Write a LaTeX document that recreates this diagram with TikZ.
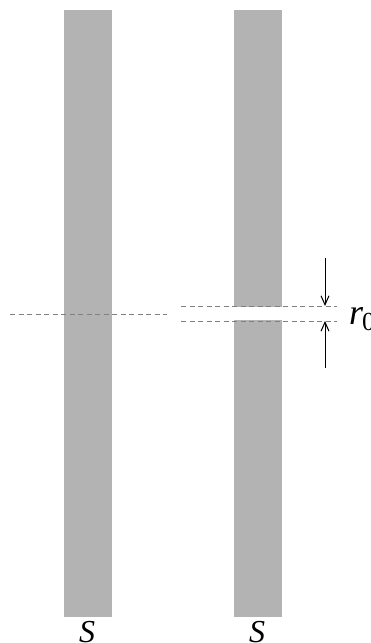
\documentclass[tikz,border=0pt]{standalone}
\usepackage{fontspec}
\setmainfont{Liberation Serif}
\usetikzlibrary{arrows.meta}
\definecolor{bargrey}{HTML}{B3B3B3}
\definecolor{dashgrey}{HTML}{808080}
\tikzset{
  bar/.style={fill=bargrey, draw=none},
  guide/.style={draw=dashgrey, line width=0.9pt, dash pattern=on 5pt off 3.5pt},
  dimarrow/.style={draw=black, line width=1pt, -{Straight Barb[length=9pt,width=8pt]}},
  lbl/.style={font=\fontsize{32}{32}\selectfont\itshape, inner sep=0pt}
}
\begin{document}
\begin{tikzpicture}[x=1pt,y=-1pt]
\useasboundingbox (0,0) rectangle (371,643);
% left bar
\fill[bar] (64,10) rectangle (112,617);
% right bar with gap
\fill[bar] (234,10) rectangle (282,307);
\fill[bar] (234,320) rectangle (282,617);
% dashed guides
\coordinate (la) at (10,314);
\coordinate (lb) at (167,314);
\draw[guide] (la) -- (lb);
\coordinate (ua) at (181,306);
\coordinate (ub) at (337,306);
\draw[guide] (ua) -- (ub);
\coordinate (da) at (181,321);
\coordinate (db) at (337,321);
\draw[guide] (da) -- (db);
% arrows
\coordinate (t0) at (325,258);
\coordinate (t1) at (325,306);
\coordinate (b0) at (325,368);
\coordinate (b1) at (325,321);
\draw[dimarrow] (t0) -- (t1);
\draw[dimarrow] (b0) -- (b1);
% labels
\node[lbl, anchor=base west, font=\fontsize{36}{36}\selectfont\itshape] (r0) at (349,324) {r\kern-1pt\raisebox{-6pt}{\fontsize{26}{26}\selectfont\upshape 0}};
\node[lbl, anchor=base] (s1) at (87,642) {S};
\node[lbl, anchor=base] (s2) at (257,642) {S};
\end{tikzpicture}
\end{document}
